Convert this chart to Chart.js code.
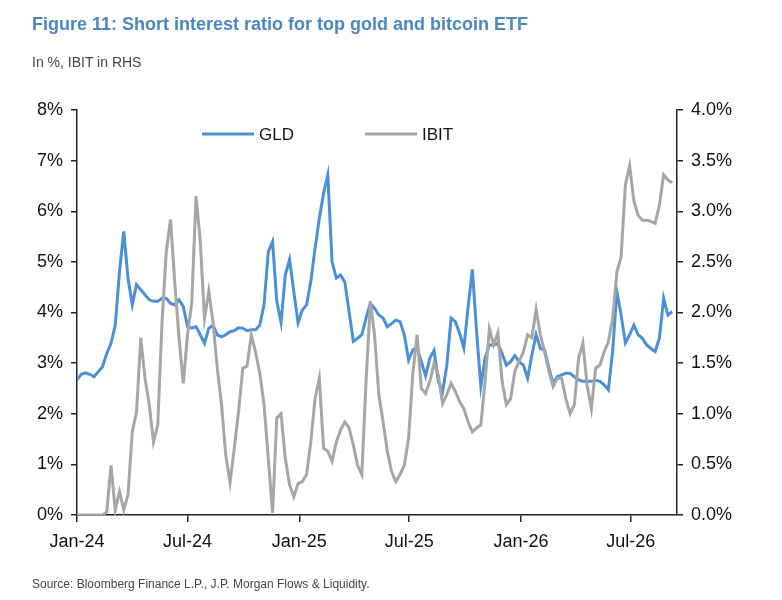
<!DOCTYPE html>
<html>
<head>
<meta charset="utf-8">
<script src="https://cdn.jsdelivr.net/npm/chart.js@4"></script>
<style>
  body { margin: 0; background: #fff; }
  #wrap { position: relative; width: 782px; height: 600px; font-family: 'Liberation Sans', Arial, sans-serif; }
  #chart { position: absolute; left: 0; top: 0; }
  .title { position: absolute; left: 32px; top: 14px; font-size: 18px; font-weight: bold; color: #4a86c2; white-space: nowrap; }
  .sub { position: absolute; left: 32px; top: 54px; font-size: 14px; color: #444; white-space: nowrap; }
  .source { position: absolute; left: 32px; top: 577px; font-size: 12px; color: #444; white-space: nowrap; }
</style>
</head>
<body>
<div id="wrap">
  <canvas id="chart" width="782" height="600"></canvas>
  <div class="title">Figure 11: Short interest ratio for top gold and bitcoin ETF</div>
  <div class="sub">In %, IBIT in RHS</div>
  <div class="source">Source: Bloomberg Finance L.P., J.P. Morgan Flows &amp; Liquidity.</div>
</div>
<script>
// weekly readings, starting 1 Jan 2024
const startDay = '2024-01-01';

// GLD short interest ratio, % (left axis)
const gld = [
  2.67, 2.78, 2.81, 2.78, 2.73, 2.83, 2.93, 3.19, 3.39, 3.75,
  4.81, 5.6, 4.68, 4.15, 4.55, 4.45, 4.35, 4.25, 4.22, 4.22,
  4.28, 4.28, 4.18, 4.15, 4.25, 4.12, 3.72, 3.69, 3.72, 3.56,
  3.39, 3.69, 3.75, 3.56, 3.52, 3.56, 3.62, 3.64, 3.70, 3.69,
  3.64, 3.66, 3.66, 3.75, 4.15, 5.2, 5.4, 4.22, 3.8, 4.74,
  5.05, 4.41, 3.8, 4.05, 4.15, 4.61, 5.27, 5.86, 6.35, 6.72,
  5.0, 4.68, 4.74, 4.6, 4.02, 3.43, 3.49, 3.56, 3.89, 4.18,
  4.08, 3.95, 3.89, 3.72, 3.78, 3.85, 3.82, 3.56, 3.06, 3.26,
  3.3, 3.03, 2.75, 3.1, 3.25, 2.64, 2.44, 2.96, 3.89, 3.82,
  3.59, 3.3, 4.1, 4.85, 3.62, 2.54, 3.1, 3.36, 3.36, 3.39,
  3.19, 2.96, 3.03, 3.15, 3.03, 2.96, 2.7, 3.16, 3.56, 3.29,
  3.26, 2.9, 2.6, 2.73, 2.77, 2.8, 2.8, 2.73, 2.67, 2.64,
  2.64, 2.64, 2.66, 2.64, 2.57, 2.47, 3.23, 4.41, 3.95, 3.4,
  3.56, 3.75, 3.56, 3.49, 3.36, 3.29, 3.23, 3.49, 4.28, 3.95, 4.02
];

// IBIT short interest ratio, % (right axis)
const ibit = [
  0, 0, 0, 0, 0, 0, 0, 0.03, 0.49, 0.05,
  0.23, 0.05, 0.2, 0.82, 1.02, 1.75, 1.35, 1.09, 0.72, 0.89,
  1.9, 2.6, 2.92, 2.3, 1.75, 1.3, 1.78, 2.1, 3.15, 2.7,
  1.94, 2.21, 1.9, 1.45, 1.09, 0.59, 0.32, 0.66, 1.02, 1.45,
  1.47, 1.78, 1.61, 1.4, 1.09, 0.56, 0.02, 0.96, 1.0, 0.56,
  0.3, 0.18, 0.31, 0.33, 0.4, 0.72, 1.15, 1.35, 0.66, 0.63,
  0.53, 0.72, 0.84, 0.92, 0.86, 0.69, 0.49, 0.4, 1.32, 2.11,
  1.78, 1.19, 0.92, 0.63, 0.43, 0.33, 0.4, 0.49, 0.76, 1.4,
  1.78, 1.25, 1.2, 1.32, 1.5, 1.38, 1.1, 1.19, 1.3, 1.22,
  1.12, 1.05, 0.92, 0.82, 0.86, 0.89, 1.32, 1.84, 1.68, 1.8,
  1.32, 1.09, 1.15, 1.42, 1.52, 1.61, 1.78, 1.75, 2.03, 1.78,
  1.61, 1.42, 1.27, 1.35, 1.35, 1.15, 1.0, 1.09, 1.55, 1.7,
  1.28, 1.05, 1.45, 1.48, 1.61, 1.71, 1.94, 2.4, 2.55, 3.26,
  3.45, 3.1, 2.96, 2.91, 2.91, 2.9, 2.88, 3.06, 3.36, 3.31, 3.28
];

// x axis ticks (days since start) and their labels
const tickDays = [0, 182, 366, 547, 731, 912];
const tickLabels = ['Jan-24', 'Jul-24', 'Jan-25', 'Jul-25', 'Jan-26', 'Jul-26'];
const lastDay = 988;

const leftTicks = [0, 1, 2, 3, 4, 5, 6, 7, 8];
const rightTicks = [0, 0.5, 1, 1.5, 2, 2.5, 3, 3.5, 4];

function toPoints(vals) {
  let pts = [];
  for (let i = 0; i < vals.length; i++) {
    pts.push({ x: i * 7, y: vals[i] });
  }
  return pts;
}

// legend drawn inside the plot, like the original
const inLegend = {
  id: 'inLegend',
  afterDraw(chart) {
    const c = chart.ctx;
    const spots = [202, 365];
    c.save();
    c.font = '17px "Liberation Sans", Arial, sans-serif';
    c.textBaseline = 'middle';
    chart.data.datasets.forEach((ds, i) => {
      let x0 = spots[i], y = 134;
      c.strokeStyle = ds.borderColor;
      c.lineWidth = 3;
      c.beginPath();
      c.moveTo(x0, y);
      c.lineTo(x0 + 52, y);
      c.stroke();
      c.fillStyle = '#111';
      c.fillText(ds.label, x0 + 57, y + 1);
    });
    c.restore();
  }
};

const axisFont = { family: '"Liberation Sans", Arial, sans-serif', size: 18 };

new Chart(document.getElementById('chart'), {
  type: 'line',
  data: {
    datasets: [
      { label: 'GLD', data: toPoints(gld), yAxisID: 'y', borderColor: '#4a90d9', borderWidth: 3, pointRadius: 0, order: 1 },
      { label: 'IBIT', data: toPoints(ibit), yAxisID: 'y2', borderColor: '#a6a6a6', borderWidth: 3, pointRadius: 0, order: 0 }
    ]
  },
  options: {
    responsive: false,
    animation: false,
    devicePixelRatio: 1,
    layout: { padding: { top: 110, left: 0, right: 0, bottom: 0 } },
    plugins: { legend: { display: false }, tooltip: { enabled: false } },
    scales: {
      x: {
        type: 'linear',
        min: 0,
        max: lastDay,
        afterBuildTicks: (s) => { s.ticks = tickDays.map(v => ({ value: v })); },
        afterFit: (s) => { s.height = 85; },
        ticks: {
          font: axisFont, color: '#111', padding: 9, maxRotation: 0, autoSkip: false,
          callback: (v) => tickLabels[tickDays.indexOf(v)]
        },
        grid: { drawOnChartArea: false, drawTicks: true, tickLength: 7, color: '#222', lineWidth: 1.5 },
        border: { display: true, color: '#222', width: 1.5 }
      },
      y: {
        position: 'left',
        min: 0,
        max: 8,
        afterBuildTicks: (s) => { s.ticks = leftTicks.map(v => ({ value: v })); },
        afterFit: (s) => { s.width = 77; },
        ticks: { font: axisFont, color: '#111', padding: 8, callback: (v) => v + '%' },
        grid: { drawOnChartArea: false, drawTicks: true, tickLength: 6, color: '#222', lineWidth: 1.5 },
        border: { display: true, color: '#222', width: 1.5 }
      },
      y2: {
        position: 'right',
        min: 0,
        max: 4,
        afterBuildTicks: (s) => { s.ticks = rightTicks.map(v => ({ value: v })); },
        afterFit: (s) => { s.width = 105; },
        ticks: { font: axisFont, color: '#111', padding: 8, callback: (v) => v.toFixed(1) + '%' },
        grid: { drawOnChartArea: false, drawTicks: true, tickLength: 6, color: '#222', lineWidth: 1.5 },
        border: { display: true, color: '#222', width: 1.5 }
      }
    }
  },
  plugins: [inLegend]
});
</script>
</body>
</html>
